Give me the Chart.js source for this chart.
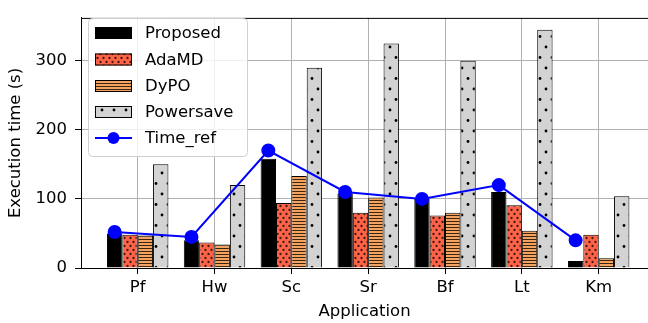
<!DOCTYPE html>
<html lang="en">
<head>
<meta charset="UTF-8">
<title>Execution time by application</title>
<script src="https://cdn.jsdelivr.net/npm/chart.js"></script>
<style>
  html, body { margin: 0; padding: 0; background: #fff; }
</style>
</head>
<body>
<canvas id="timeChart" width="648" height="323"></canvas>
<script>
// Values
const apps = ['Pf', 'Hw', 'Sc', 'Sr', 'Bf', 'Lt', 'Km'];
const proposed = [50, 40, 158, 108, 100, 110, 10];
const adamd = [48, 37, 94, 80, 76, 91, 48];
const dypo = [47, 34, 133, 102, 80, 54, 14];
const powersave = [150, 120, 290, 325, 300, 345, 104];
const timeRef = [52, 45, 170, 110, 100, 120, 40];
const yTicks = [0, 100, 200, 300];

const FONT = { family: 'DejaVu Sans', size: 16.5 };

// small tiles to mimic the matplotlib hatches
function makePattern(w, h, bg, paint) {
    const c = document.createElement('canvas');
    c.width = w; c.height = h;
    const g = c.getContext('2d');
    g.fillStyle = bg;
    g.fillRect(0, 0, w, h);
    paint(g);
    return g.createPattern(c, 'repeat');
}
function dot(g, x, y, r, col) {
    g.fillStyle = col;
    g.beginPath();
    g.arc(x, y, r, 0, Math.PI * 2);
    g.fill();
}

const ctx = document.getElementById('timeChart').getContext('2d');

const adaFill = makePattern(6, 8, '#ff6347', g => {
    dot(g, 1.5, 2, 1.15, '#3a1a10');
    dot(g, 4.5, 6, 1.15, '#3a1a10');
});
const dypoFill = makePattern(4, 3, '#f4a460', g => {
    g.fillStyle = '#3b2410';
    g.fillRect(0, 2, 4, 1);
});
const powerFill = makePattern(12, 21, '#d3d3d3', g => {
    dot(g, 6, 5, 1.4, '#000');
    dot(g, 0, 15.5, 1.4, '#000');
    dot(g, 12, 15.5, 1.4, '#000');
});

function barSet(label, values, fill) {
    return {
        type: 'bar',
        label: label,
        data: values.map((v, i) => ({ x: i, y: v })),
        backgroundColor: fill,
        borderColor: '#000',
        borderWidth: 1,
        categoryPercentage: 0.8,
        barPercentage: 1,
        order: 1
    };
}

// legend drawn inside the plot, top-left, like matplotlib
const innerLegend = {
    id: 'innerLegend',
    afterDraw(chart) {
        const c = chart.ctx;
        const x0 = 88, y0 = 18, w = 159, h = 138;
        c.save();
        c.beginPath();
        c.roundRect(x0 + 0.5, y0 + 0.5, w, h, 4);
        c.fillStyle = 'rgba(255,255,255,0.8)';
        c.fill();
        c.strokeStyle = '#d0d0d0';
        c.lineWidth = 1;
        c.stroke();

        const rows = [33, 59.5, 86, 112, 138];
        const sets = chart.data.datasets;
        c.font = FONT.size + 'px "' + FONT.family + '"';
        c.textBaseline = 'middle';
        c.textAlign = 'left';
        sets.forEach((ds, i) => {
            const y = rows[i];
            if (ds.type === 'line') {
                c.strokeStyle = ds.borderColor;
                c.lineWidth = 2;
                c.beginPath();
                c.moveTo(95, y); c.lineTo(132, y);
                c.stroke();
                dot(c, 113.5, y, 6, ds.borderColor);
            } else {
                c.fillStyle = ds.backgroundColor;
                c.fillRect(95, y - 6, 37, 12);
                c.strokeStyle = '#000';
                c.lineWidth = 1;
                c.strokeRect(95.5, y - 5.5, 36, 11);
            }
            c.fillStyle = '#000';
            c.fillText(ds.label, 145, y + 1);
        });
        c.restore();
    }
};

// top spine
const topSpine = {
    id: 'topSpine',
    afterDatasetsDraw(chart) {
        const a = chart.chartArea, c = chart.ctx;
        c.save();
        c.strokeStyle = '#000';
        c.lineWidth = 1;
        c.beginPath();
        c.moveTo(a.left, a.top + 0.5);
        c.lineTo(a.right, a.top + 0.5);
        c.stroke();
        c.restore();
    }
};

const timeChart = new Chart(ctx, {
    type: 'bar',
    data: {
        datasets: [
            barSet('Proposed', proposed, '#000'),
            barSet('AdaMD', adamd, adaFill),
            barSet('DyPO', dypo, dypoFill),
            barSet('Powersave', powersave, powerFill),
            {
                type: 'line',
                label: 'Time_ref',
                // points sit on the centre of the first bar of each group
                data: timeRef.map((v, i) => ({ x: i - 0.3, y: v })),
                borderColor: '#0000ff',
                backgroundColor: '#0000ff',
                borderWidth: 2,
                pointRadius: 6,
                pointHoverRadius: 6,
                tension: 0,
                order: 0
            }
        ]
    },
    options: {
        responsive: false,
        animation: false,
        events: [],
        layout: { autoPadding: false, padding: { top: 9, right: 0, left: 0, bottom: 0 } },
        plugins: { legend: { display: false }, tooltip: { enabled: false } },
        scales: {
            x: {
                type: 'linear',
                offset: false,
                min: -0.738,
                max: 6.642,
                afterBuildTicks: s => { s.ticks = apps.map((_, i) => ({ value: i })); },
                afterFit: s => { s.height = 55; },
                ticks: {
                    callback: v => apps[v],
                    autoSkip: false,
                    maxRotation: 0,
                    padding: 4,
                    color: '#000',
                    font: FONT
                },
                grid: { offset: false, color: '#b0b0b0', lineWidth: 1, tickColor: '#000', tickLength: 6 },
                border: { color: '#000', width: 1 },
                title: {
                    display: true,
                    text: 'Application',
                    color: '#000',
                    font: FONT,
                    padding: { top: 0, bottom: 1 }
                }
            },
            y: {
                min: 0,
                max: 362,
                afterBuildTicks: s => { s.ticks = yTicks.map(v => ({ value: v })); },
                afterFit: s => { s.width = 81; },
                ticks: { padding: 8, color: '#000', font: FONT },
                grid: { color: '#b0b0b0', lineWidth: 1, tickColor: '#000', tickLength: 6 },
                border: { color: '#000', width: 1 },
                title: {
                    display: true,
                    text: 'Execution time (s)',
                    color: '#000',
                    font: FONT,
                    padding: { top: 6, bottom: 0 }
                }
            }
        }
    },
    plugins: [topSpine, innerLegend]
});
</script>
</body>
</html>
